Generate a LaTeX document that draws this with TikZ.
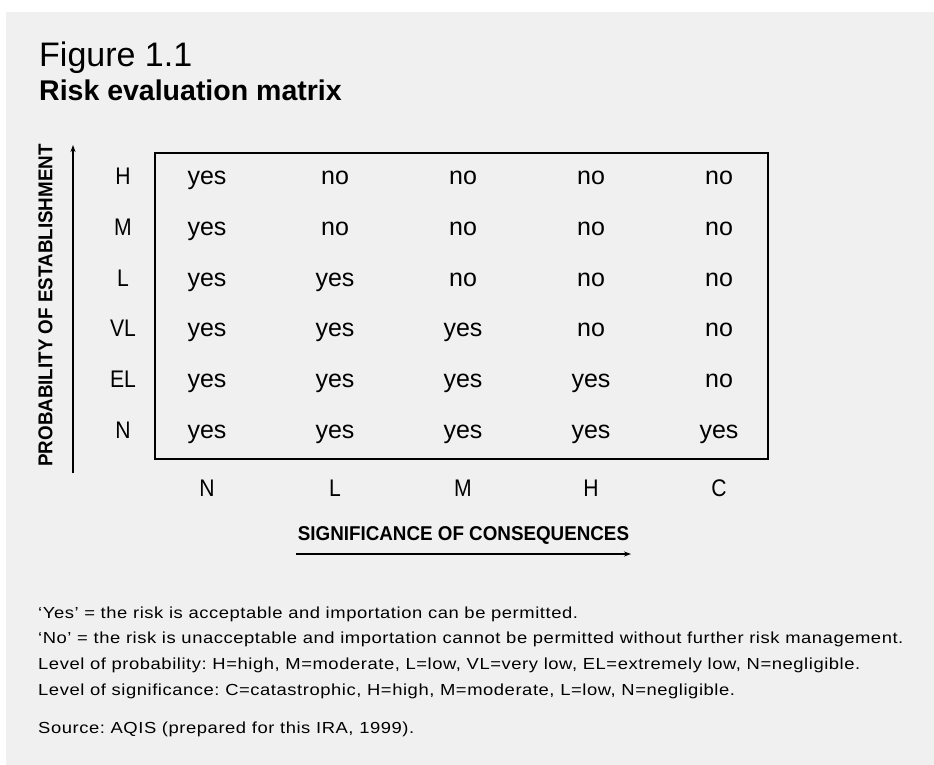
\documentclass[tikz,border=0pt]{standalone}
\usepackage{fontspec}
\setmainfont{Liberation Sans}
\newfontfamily\condfont[FakeStretch=0.88]{Liberation Sans}
\newfontfamily\axisfont[FakeStretch=0.94]{Liberation Sans Bold}
\newfontfamily\notefont[FakeStretch=1.15,LetterSpace=3.5]{Liberation Sans}
\usetikzlibrary{arrows.meta}
\definecolor{panel}{RGB}{240,240,240}
\frenchspacing
\begin{document}
\begin{tikzpicture}[x=1pt,y=-1pt,
  cell/.style={inner sep=0pt,anchor=center,font=\fontsize{25}{25}\selectfont},
  lab/.style={inner sep=0pt,anchor=base,font=\condfont\fontsize{24}{24}\selectfont},
  axis/.style={inner sep=0pt,font=\axisfont\fontsize{20}{20}\selectfont},
  note/.style={inner sep=0pt,anchor=base west,font=\notefont\fontsize{16}{16}\selectfont},
  axisarrow/.style={line width=1.3pt,-{Stealth[length=7pt,width=5pt]}}]
\useasboundingbox (0,0) rectangle (934,765);
\fill[white] (0,0) rectangle (934,765);
\fill[panel] (6,12) rectangle (934,765);
% titles
\node[inner sep=0pt,anchor=base west,font=\fontsize{34}{34}\selectfont] (fig) at (39,67) {Figure 1.1};
\node[inner sep=0pt,anchor=base west,font=\bfseries\fontsize{28.5}{28.5}\selectfont] (title) at (39,101) {Risk evaluation matrix};
% matrix frame
\draw[line width=1.5pt] (155,153) rectangle (768,459);
% row labels
\foreach \r [count=\i from 0] in {H,M,L,VL,EL,N}{
  \node[lab] (row\i) at (123,{184.5+50.8*\i}) {\r};
}
% column labels
\foreach \c [count=\j from 0] in {N,L,M,H,C}{
  \node[lab] (col\j) at ({207+128*\j},496) {\c};
}
% cells
\foreach \row [count=\i from 0] in {
  {yes,no,no,no,no},
  {yes,no,no,no,no},
  {yes,yes,no,no,no},
  {yes,yes,yes,no,no},
  {yes,yes,yes,yes,no},
  {yes,yes,yes,yes,yes}}{
  \foreach \v [count=\j from 0] in \row {
    \node[cell,anchor=base] (c\i\j) at ({207+128*\j},{184.5+50.8*\i}) {\v};
  }
}
% axes
\coordinate (ya) at (73,473);
\coordinate (yb) at (73,145);
\draw[axisarrow] (ya) -- (yb);
\node[axis,rotate=90,anchor=center] (ylab) at (45.5,305.5) {PROBABILITY OF ESTABLISHMENT};
\node[axis,anchor=base] (xlab) at (463.5,540) {SIGNIFICANCE OF CONSEQUENCES};
\coordinate (xa) at (296,554);
\coordinate (xb) at (631,554);
\draw[axisarrow] (xa) -- (xb);
% notes
\node[note] (n1) at (38,618) {‘Yes’ = the risk is acceptable and importation can be permitted.};
\node[note] (n2) at (38,643) {‘No’ = the risk is unacceptable and importation cannot be permitted without further risk management.};
\node[note] (n3) at (38,669) {Level of probability: H=high, M=moderate, L=low, VL=very low, EL=extremely low, N=negligible.};
\node[note] (n4) at (38,695) {Level of significance: C=catastrophic, H=high, M=moderate, L=low, N=negligible.};
\node[note] (n5) at (38,733) {Source: AQIS (prepared for this IRA, 1999).};
\end{tikzpicture}
\end{document}
